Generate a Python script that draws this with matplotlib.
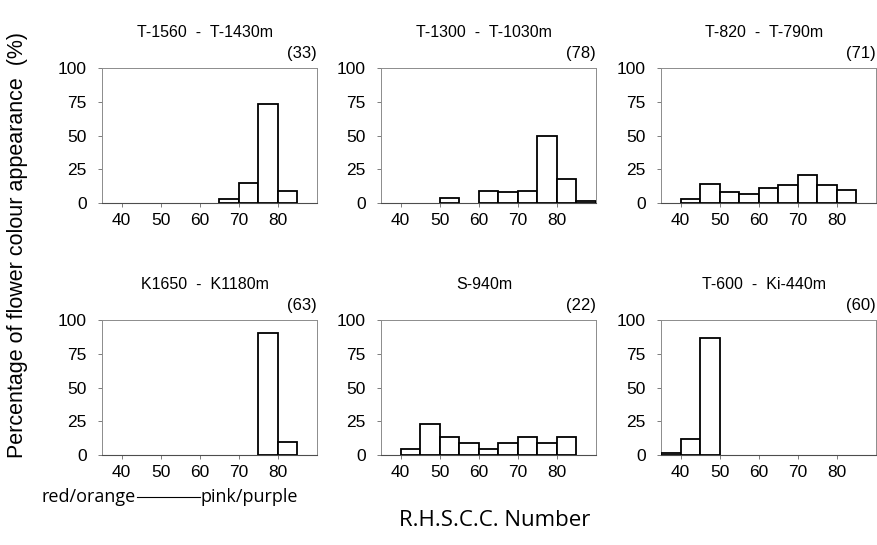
import numpy as np
import matplotlib.pyplot as plt

# panel titles and sample sizes
titles = ["T-1560  -  T-1430m", "T-1300  -  T-1030m", "T-820  -  T-790m",
          "K1650  -  K1180m", "S-940m", "T-600  -  Ki-440m"]
counts = ["(33)", "(78)", "(71)", "(63)", "(22)", "(60)"]

# left edge of each 5-unit R.H.S.C.C. class, and % of plants in it
bins1 = [65, 70, 75, 80]
pct1 = [3, 15, 73, 9]
bins2 = [50, 60, 65, 70, 75, 80, 85]
pct2 = [4, 9, 8, 9, 50, 18, 1.3]
bins3 = [40, 45, 50, 55, 60, 65, 70, 75, 80]
pct3 = [3, 14, 8.5, 7, 11, 13, 21, 13, 10]
bins4 = [75, 80]
pct4 = [90.5, 9.5]
bins5 = [40, 45, 50, 55, 60, 65, 70, 75, 80]
pct5 = [4.5, 22.7, 13.6, 9.1, 4.5, 9.1, 13.6, 9.1, 13.6]
bins6 = [35, 40, 45]
pct6 = [1.7, 11.7, 86.7]

xticks = [40, 50, 60, 70, 80]
yticks = [0, 25, 50, 75, 100]

W, H = 877, 545
FONT = "Liberation Sans"


def rect(left, top, width, height):
    # pixel box -> figure fraction
    return [left / W, 1 - (top + height) / H, width / W, height / H]


def panel(fig, box, bins, pct, title, n):
    ax = fig.add_axes(box)
    ax.bar(bins, pct, width=5, align="edge", color="white",
           edgecolor="black", linewidth=1.3, zorder=3)
    ax.set_xlim(35, 90)
    ax.set_ylim(0, 100)
    ax.set_xticks(xticks)
    ax.set_yticks(yticks)
    ax.set_xticklabels([str(t) for t in xticks], fontsize=12.5, family=FONT)
    ax.set_yticklabels([str(t) for t in yticks], fontsize=12.5, family=FONT)
    ax.tick_params(axis="both", length=3, width=0.6, color="0.4", pad=4)
    ax.tick_params(axis="y", pad=8)
    for s in ["top", "right", "left"]:
        ax.spines[s].set_color("0.55")
        ax.spines[s].set_linestyle((0, (2, 1)))
        ax.spines[s].set_linewidth(0.7)
    ax.spines["bottom"].set_color("0.3")
    ax.spines["bottom"].set_linewidth(0.8)
    # title sits well above, the count just over the top-right corner
    ax.text(0.48, 1.265, title, transform=ax.transAxes, ha="center",
            va="center", fontsize=11.5, family=FONT)
    ax.text(1.0, 1.05, n, transform=ax.transAxes, ha="right",
            va="bottom", fontsize=12, family=FONT)
    return ax


fig = plt.figure(figsize=(W / 100, H / 100), dpi=100)

lefts = [102, 381, 661]
data = [(bins1, pct1), (bins2, pct2), (bins3, pct3),
        (bins4, pct4), (bins5, pct5), (bins6, pct6)]
for i in range(6):
    top = 68 if i < 3 else 320
    b, p = data[i]
    panel(fig, rect(lefts[i % 3], top, 215, 135), b, p, titles[i], counts[i])

fig.text(18 / W, 1 - 245 / H, "Percentage of flower colour appearance  (%)",
         rotation=90, ha="center", va="center", fontsize=15.5, family=FONT)
fig.text(136 / W, 1 - 497 / H, "red/orange", ha="right", va="center",
         fontsize=13, family="Open Sans")
fig.add_artist(plt.Line2D([137 / W, 200 / W], [1 - 497 / H, 1 - 497 / H],
                          color="black", linewidth=0.8))
fig.text(200 / W, 1 - 497 / H, "pink/purple", ha="left", va="center",
         fontsize=13, family="Open Sans")
fig.text(495 / W, 1 - 521 / H, "R.H.S.C.C. Number", ha="center", va="center",
         fontsize=16, family="Open Sans")

fig.savefig("out.png", dpi=100)
